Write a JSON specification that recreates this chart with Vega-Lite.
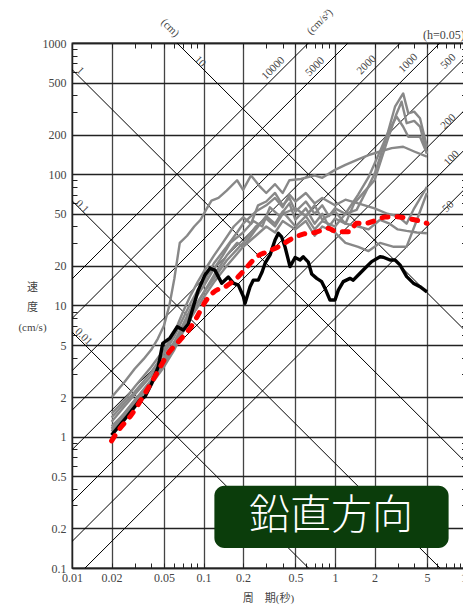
{
"$schema": "https://vega.github.io/schema/vega-lite/v6.json",
"width": 394.5, "height": 525,
"autosize": {"type": "none"},
"padding": {"left": 72, "top": 43, "right": 0, "bottom": 38},
"background": "white",
"config": {"font": "Liberation Serif, Noto Sans CJK JP", "view": {"stroke": "#222", "strokeWidth": 1.3}},
"datasets": {
"diag": [
{"g":"d0.01","T":0.01,"V":6.283},{"g":"d0.01","T":10,"V":0.006283},
{"g":"d0.1","T":0.01,"V":62.83},{"g":"d0.1","T":10,"V":0.06283},
{"g":"d1","T":0.01,"V":628.3},{"g":"d1","T":10,"V":0.6283},
{"g":"d10","T":0.01,"V":6283},{"g":"d10","T":10,"V":6.283},
{"g":"a50","T":0.01,"V":0.0796},{"g":"a50","T":10,"V":79.58},
{"g":"a100","T":0.01,"V":0.1592},{"g":"a100","T":10,"V":159.2},
{"g":"a200","T":0.01,"V":0.3183},{"g":"a200","T":10,"V":318.3},
{"g":"a500","T":0.01,"V":0.7958},{"g":"a500","T":10,"V":795.8},
{"g":"a1000","T":0.01,"V":1.592},{"g":"a1000","T":10,"V":1592},
{"g":"a2000","T":0.01,"V":3.183},{"g":"a2000","T":10,"V":3183},
{"g":"a5000","T":0.01,"V":7.958},{"g":"a5000","T":10,"V":7958},
{"g":"a10000","T":0.01,"V":15.92},{"g":"a10000","T":10,"V":15915}
],
"grey": [
{"id":"g1","T":0.02,"V":2.0},{"id":"g1","T":0.025,"V":2.6},{"id":"g1","T":0.03,"V":3.3},{"id":"g1","T":0.035,"V":3.9},{"id":"g1","T":0.04,"V":4.6},{"id":"g1","T":0.045,"V":5.6},{"id":"g1","T":0.05,"V":7},{"id":"g1","T":0.055,"V":10},{"id":"g1","T":0.06,"V":16},{"id":"g1","T":0.066,"V":30},{"id":"g1","T":0.075,"V":34},{"id":"g1","T":0.085,"V":40},{"id":"g1","T":0.095,"V":45},{"id":"g1","T":0.105,"V":54},{"id":"g1","T":0.115,"V":63},{"id":"g1","T":0.13,"V":66},{"id":"g1","T":0.15,"V":75},{"id":"g1","T":0.18,"V":90},{"id":"g1","T":0.2,"V":76},{"id":"g1","T":0.23,"V":98},{"id":"g1","T":0.27,"V":80},{"id":"g1","T":0.3,"V":72},{"id":"g1","T":0.35,"V":84},{"id":"g1","T":0.4,"V":72},{"id":"g1","T":0.45,"V":90},{"id":"g1","T":0.55,"V":92},{"id":"g1","T":0.7,"V":98},{"id":"g1","T":0.8,"V":94},{"id":"g1","T":1.0,"V":108},{"id":"g1","T":1.2,"V":118},{"id":"g1","T":1.5,"V":130},{"id":"g1","T":1.8,"V":140},{"id":"g1","T":2.2,"V":149},{"id":"g1","T":2.7,"V":158},{"id":"g1","T":3.3,"V":162},{"id":"g1","T":4.0,"V":149},{"id":"g1","T":5.0,"V":136},
{"id":"g2","T":0.02,"V":1.5},{"id":"g2","T":0.025,"V":1.9},{"id":"g2","T":0.03,"V":2.4},{"id":"g2","T":0.04,"V":3.4},{"id":"g2","T":0.05,"V":4.6},{"id":"g2","T":0.06,"V":6.2},{"id":"g2","T":0.07,"V":9},{"id":"g2","T":0.08,"V":12},{"id":"g2","T":0.09,"V":15},{"id":"g2","T":0.1,"V":18},{"id":"g2","T":0.12,"V":24},{"id":"g2","T":0.14,"V":30},{"id":"g2","T":0.17,"V":40},{"id":"g2","T":0.2,"V":47},{"id":"g2","T":0.23,"V":42},{"id":"g2","T":0.26,"V":58},{"id":"g2","T":0.3,"V":62},{"id":"g2","T":0.35,"V":72},{"id":"g2","T":0.4,"V":58},{"id":"g2","T":0.45,"V":66},{"id":"g2","T":0.5,"V":52},{"id":"g2","T":0.6,"V":62},{"id":"g2","T":0.7,"V":50},{"id":"g2","T":0.8,"V":58},{"id":"g2","T":0.9,"V":48},{"id":"g2","T":1.0,"V":55},{"id":"g2","T":1.2,"V":50},{"id":"g2","T":1.46,"V":53.5},{"id":"g2","T":1.7,"V":72},{"id":"g2","T":2.01,"V":102},{"id":"g2","T":2.47,"V":193},{"id":"g2","T":2.86,"V":327},{"id":"g2","T":3.3,"V":413},{"id":"g2","T":3.61,"V":291},{"id":"g2","T":4.0,"V":300},{"id":"g2","T":4.43,"V":267},{"id":"g2","T":5.0,"V":162},
{"id":"g3","T":0.02,"V":1.3},{"id":"g3","T":0.025,"V":1.7},{"id":"g3","T":0.03,"V":2.1},{"id":"g3","T":0.04,"V":2.9},{"id":"g3","T":0.05,"V":4.0},{"id":"g3","T":0.06,"V":5.3},{"id":"g3","T":0.07,"V":7.2},{"id":"g3","T":0.08,"V":9.5},{"id":"g3","T":0.09,"V":12},{"id":"g3","T":0.1,"V":14},{"id":"g3","T":0.12,"V":19},{"id":"g3","T":0.14,"V":24},{"id":"g3","T":0.16,"V":30},{"id":"g3","T":0.2,"V":36},{"id":"g3","T":0.24,"V":44},{"id":"g3","T":0.28,"V":40},{"id":"g3","T":0.32,"V":56},{"id":"g3","T":0.38,"V":48},{"id":"g3","T":0.45,"V":60},{"id":"g3","T":0.5,"V":45},{"id":"g3","T":0.6,"V":55},{"id":"g3","T":0.7,"V":42},{"id":"g3","T":0.8,"V":50},{"id":"g3","T":0.9,"V":40},{"id":"g3","T":1.0,"V":46},{"id":"g3","T":1.2,"V":42},{"id":"g3","T":1.4,"V":60},{"id":"g3","T":1.7,"V":75},{"id":"g3","T":2.0,"V":90},{"id":"g3","T":2.5,"V":180},{"id":"g3","T":2.9,"V":280},{"id":"g3","T":3.21,"V":357},{"id":"g3","T":3.51,"V":245},{"id":"g3","T":4.0,"V":255},{"id":"g3","T":4.43,"V":231},{"id":"g3","T":5.0,"V":144},
{"id":"g4","T":0.02,"V":1.2},{"id":"g4","T":0.025,"V":1.5},{"id":"g4","T":0.03,"V":1.9},{"id":"g4","T":0.04,"V":2.6},{"id":"g4","T":0.05,"V":3.6},{"id":"g4","T":0.06,"V":4.8},{"id":"g4","T":0.07,"V":6.5},{"id":"g4","T":0.08,"V":8.5},{"id":"g4","T":0.1,"V":12.5},{"id":"g4","T":0.12,"V":17},{"id":"g4","T":0.15,"V":24},{"id":"g4","T":0.18,"V":30},{"id":"g4","T":0.2,"V":28},{"id":"g4","T":0.25,"V":38},{"id":"g4","T":0.3,"V":48},{"id":"g4","T":0.35,"V":42},{"id":"g4","T":0.4,"V":52},{"id":"g4","T":0.5,"V":40},{"id":"g4","T":0.6,"V":48},{"id":"g4","T":0.7,"V":38},{"id":"g4","T":0.8,"V":44},{"id":"g4","T":1.0,"V":40},{"id":"g4","T":1.2,"V":50},{"id":"g4","T":1.5,"V":70},{"id":"g4","T":1.8,"V":95},{"id":"g4","T":2.2,"V":150},{"id":"g4","T":2.6,"V":220},{"id":"g4","T":2.94,"V":275},{"id":"g4","T":3.3,"V":230},{"id":"g4","T":3.61,"V":193},{"id":"g4","T":4.43,"V":193},{"id":"g4","T":5.0,"V":144},
{"id":"g5","T":0.02,"V":1.1},{"id":"g5","T":0.03,"V":1.8},{"id":"g5","T":0.04,"V":2.5},{"id":"g5","T":0.05,"V":3.4},{"id":"g5","T":0.06,"V":4.6},{"id":"g5","T":0.07,"V":6.3},{"id":"g5","T":0.08,"V":8},{"id":"g5","T":0.1,"V":11.5},{"id":"g5","T":0.12,"V":15},{"id":"g5","T":0.15,"V":20},{"id":"g5","T":0.2,"V":28},{"id":"g5","T":0.25,"V":34},{"id":"g5","T":0.3,"V":40},{"id":"g5","T":0.35,"V":36},{"id":"g5","T":0.4,"V":44},{"id":"g5","T":0.5,"V":38},{"id":"g5","T":0.6,"V":44},{"id":"g5","T":0.7,"V":34},{"id":"g5","T":0.8,"V":40},{"id":"g5","T":1.0,"V":36},{"id":"g5","T":1.2,"V":30},{"id":"g5","T":1.5,"V":28},{"id":"g5","T":1.8,"V":26},{"id":"g5","T":2.2,"V":30},{"id":"g5","T":2.8,"V":28},{"id":"g5","T":3.5,"V":28},{"id":"g5","T":4.2,"V":45},{"id":"g5","T":5.0,"V":72},
{"id":"g6","T":0.02,"V":1.15},{"id":"g6","T":0.03,"V":1.9},{"id":"g6","T":0.04,"V":2.7},{"id":"g6","T":0.05,"V":3.8},{"id":"g6","T":0.06,"V":5},{"id":"g6","T":0.07,"V":6.8},{"id":"g6","T":0.08,"V":8.8},{"id":"g6","T":0.1,"V":12.5},{"id":"g6","T":0.12,"V":16},{"id":"g6","T":0.15,"V":22},{"id":"g6","T":0.2,"V":30},{"id":"g6","T":0.25,"V":40},{"id":"g6","T":0.3,"V":46},{"id":"g6","T":0.35,"V":40},{"id":"g6","T":0.4,"V":50},{"id":"g6","T":0.5,"V":55},{"id":"g6","T":0.6,"V":48},{"id":"g6","T":0.7,"V":58},{"id":"g6","T":0.8,"V":45},{"id":"g6","T":1.0,"V":52},{"id":"g6","T":1.2,"V":42},{"id":"g6","T":1.5,"V":40},{"id":"g6","T":1.8,"V":38},{"id":"g6","T":2.2,"V":45},{"id":"g6","T":2.6,"V":42},{"id":"g6","T":3.0,"V":38},{"id":"g6","T":3.5,"V":37},{"id":"g6","T":4.2,"V":36},{"id":"g6","T":5.0,"V":35.5},
{"id":"g7","T":0.02,"V":1.4},{"id":"g7","T":0.03,"V":2.2},{"id":"g7","T":0.04,"V":3.1},{"id":"g7","T":0.05,"V":4.3},{"id":"g7","T":0.06,"V":5.8},{"id":"g7","T":0.07,"V":8},{"id":"g7","T":0.08,"V":10.5},{"id":"g7","T":0.09,"V":13},{"id":"g7","T":0.1,"V":15},{"id":"g7","T":0.12,"V":21},{"id":"g7","T":0.15,"V":28},{"id":"g7","T":0.18,"V":36},{"id":"g7","T":0.2,"V":42},{"id":"g7","T":0.25,"V":52},{"id":"g7","T":0.3,"V":58},{"id":"g7","T":0.35,"V":66},{"id":"g7","T":0.4,"V":56},{"id":"g7","T":0.45,"V":70},{"id":"g7","T":0.5,"V":62},{"id":"g7","T":0.6,"V":72},{"id":"g7","T":0.7,"V":60},{"id":"g7","T":0.8,"V":66},{"id":"g7","T":1.0,"V":58},{"id":"g7","T":1.2,"V":64},{"id":"g7","T":1.5,"V":60},{"id":"g7","T":2.0,"V":55},{"id":"g7","T":2.5,"V":50},{"id":"g7","T":3.0,"V":48},{"id":"g7","T":3.5,"V":42},{"id":"g7","T":4.0,"V":55},{"id":"g7","T":5.0,"V":80}
],
"black": [
{"T":0.02,"V":1.03},{"T":0.0261,"V":1.42},{"T":0.0329,"V":1.9},{"T":0.0359,"V":2.02},{"T":0.0404,"V":2.55},{"T":0.0453,"V":3.42},{"T":0.049,"V":5.15},{"T":0.0556,"V":5.65},{"T":0.0632,"V":6.89},{"T":0.0702,"V":6.5},{"T":0.0766,"V":7.23},{"T":0.0836,"V":9.79},{"T":0.0913,"V":13.1},{"T":0.1026,"V":17.1},{"T":0.112,"V":19.2},{"T":0.122,"V":18.6},{"T":0.1375,"V":14.8},{"T":0.1544,"V":16.5},{"T":0.1685,"V":14.8},{"T":0.184,"V":14.3},{"T":0.201,"V":11.7},{"T":0.207,"V":10.4},{"T":0.226,"V":13.9},{"T":0.239,"V":15.6},{"T":0.261,"V":15.6},{"T":0.279,"V":18.0},{"T":0.294,"V":21.0},{"T":0.321,"V":24.3},{"T":0.35,"V":31.6},{"T":0.371,"V":35.5},{"T":0.393,"V":33.3},{"T":0.417,"V":27.9},{"T":0.455,"V":19.8},{"T":0.497,"V":23.2},{"T":0.542,"V":22.2},{"T":0.574,"V":23.5},{"T":0.627,"V":21.4},{"T":0.665,"V":17.4},{"T":0.726,"V":16.1},{"T":0.792,"V":15.2},{"T":0.84,"V":13.5},{"T":0.916,"V":11.0},{"T":1.0,"V":11.0},{"T":1.06,"V":13.1},{"T":1.156,"V":15.2},{"T":1.3,"V":16.1},{"T":1.377,"V":15.6},{"T":1.55,"V":17.6},{"T":1.69,"V":19.2},{"T":1.9,"V":21.6},{"T":2.2,"V":23.5},{"T":2.33,"V":23.3},{"T":2.62,"V":22.2},{"T":2.86,"V":22.2},{"T":3.12,"V":20.4},{"T":3.51,"V":16.6},{"T":3.94,"V":14.8},{"T":4.43,"V":13.9},{"T":5.0,"V":12.7}
],
"red": [
{"T":0.02,"V":0.93},{"T":0.0232,"V":1.16},{"T":0.0276,"V":1.42},{"T":0.0359,"V":2.14},{"T":0.0441,"V":3.04},{"T":0.054,"V":4.32},{"T":0.0663,"V":5.46},{"T":0.079,"V":6.7},{"T":0.0888,"V":8.1},{"T":0.1026,"V":10.6},{"T":0.119,"V":12.6},{"T":0.15,"V":14.1},{"T":0.184,"V":16.6},{"T":0.213,"V":19.5},{"T":0.254,"V":23.5},{"T":0.303,"V":25.6},{"T":0.369,"V":27.9},{"T":0.482,"V":32.7},{"T":0.581,"V":35.1},{"T":0.705,"V":36},{"T":0.885,"V":38.7},{"T":1.03,"V":36.5},{"T":1.3,"V":36.5},{"T":1.46,"V":42.3},{"T":1.69,"V":42.3},{"T":2.08,"V":44.8},{"T":2.4,"V":47.2},{"T":2.94,"V":47.5},{"T":3.51,"V":46.2},{"T":4.18,"V":44.6},{"T":5.0,"V":42.3}
],
"lab45": [
{"t":"1","T":0.0115,"V":615},{"t":"10","T":0.094,"V":721},{"t":"0.1","T":0.0119,"V":56.6},{"t":"0.01","T":0.0122,"V":5.78},{"t":"(cm)","T":0.0556,"V":1301}
],
"labm45": [
{"t":"10000","T":0.34,"V":641},{"t":"5000","T":0.705,"V":659},{"t":"2000","T":1.74,"V":680},{"t":"1000","T":3.61,"V":700},{"t":"500","T":7.28,"V":721},{"t":"200","T":7.28,"V":251},{"t":"100","T":7.71,"V":132},{"t":"50","T":7.28,"V":56.6},{"t":"(cm/s²)","T":0.769,"V":1445}
],
"lab0": [{"t":"(h=0.05)","T":4.67,"V":1151}],
"box": [{"T":0.121,"T2":7.31,"V":0.423,"V2":0.142,"t":"鉛直方向","Tc":0.933,"Vc":0.245}]
},
"layer": [
{"data": {"name": "diag"},
 "mark": {"type": "line", "clip": true, "color": "#000", "strokeWidth": 1},
 "encoding": {
  "x": {"field": "T", "type": "quantitative", "scale": {"type": "log", "domain": [0.01, 10], "nice": false},
   "axis": {"orient": "bottom",
    "values": [0.01,0.02,0.03,0.04,0.05,0.06,0.07,0.08,0.09,0.1,0.2,0.3,0.4,0.5,0.6,0.7,0.8,0.9,1,2,3,4,5,6,7,8,9,10],
    "format": "~g",
    "labelExpr": "indexof([0.01,0.02,0.05,0.1,0.2,0.5,1,2,5,10], datum.value) >= 0 ? datum.label : ''",
    "grid": true,
    "gridOpacity": {"condition": {"test": "indexof([0.01,0.02,0.05,0.1,0.2,0.5,1,2,5,10], datum.value) >= 0", "value": 1}, "value": 0},
    "gridColor": "#444", "gridWidth": 1.3,
    "tickSize": -5, "tickColor": "#222", "tickWidth": 1,
    "domainColor": "#222", "domainWidth": 1.3,
    "labelFontSize": 12, "labelColor": "#444", "labelPadding": 9, "labelFlush": false, "labelOverlap": false,
    "title": "周　期(秒)", "titleFontSize": 11, "titleFontWeight": "normal", "titleColor": "#444",
    "titleX": 196, "titleY": 30, "titleAlign": "center", "titleBaseline": "middle"}},
  "y": {"field": "V", "type": "quantitative", "scale": {"type": "log", "domain": [0.1, 1000], "nice": false},
   "axis": {"orient": "left",
    "values": [0.1,0.2,0.3,0.4,0.5,0.6,0.7,0.8,0.9,1,2,3,4,5,6,7,8,9,10,20,30,40,50,60,70,80,90,100,200,300,400,500,600,700,800,900,1000],
    "format": "~g",
    "labelExpr": "indexof([0.1,0.2,0.5,1,2,5,10,20,50,100,200,500,1000], datum.value) >= 0 ? datum.label : ''",
    "grid": true,
    "gridOpacity": {"condition": {"test": "indexof([0.1,0.2,0.5,1,2,5,10,20,50,100,200,500,1000], datum.value) >= 0", "value": 1}, "value": 0},
    "gridColor": "#222", "gridWidth": 1.3,
    "tickSize": -5, "tickColor": "#222", "tickWidth": 1,
    "domainColor": "#222", "domainWidth": 1.3,
    "labelFontSize": 12, "labelColor": "#444", "labelPadding": 11, "labelOverlap": false, "labelFlush": false,
    "title": ["速", "度", "(cm/s)"], "titleFontSize": 11, "titleFontWeight": "normal", "titleColor": "#444",
    "titleAngle": 0, "titleX": -40, "titleY": 244, "titleAlign": "center", "titleBaseline": "middle", "titleLineHeight": 20}},
  "detail": {"field": "g"}}},
{"data": {"name": "grey"},
 "mark": {"type": "line", "color": "#888", "strokeWidth": 2.4, "strokeJoin": "round"},
 "encoding": {
  "x": {"field": "T", "type": "quantitative", "scale": {"type": "log", "domain": [0.01, 10], "nice": false},
   "axis": {"orient": "top", "values": [0.01,0.02,0.03,0.04,0.05,0.06,0.07,0.08,0.09,0.1,0.2,0.3,0.4,0.5,0.6,0.7,0.8,0.9,1,2,3,4,5,6,7,8,9,10],
    "labels": false, "grid": false, "tickSize": -5, "tickColor": "#222", "domainColor": "#222", "domainWidth": 1.3, "title": null}},
  "y": {"field": "V", "type": "quantitative", "scale": {"type": "log", "domain": [0.1, 1000], "nice": false},
   "axis": {"orient": "right", "values": [0.1,0.2,0.3,0.4,0.5,0.6,0.7,0.8,0.9,1,2,3,4,5,6,7,8,9,10,20,30,40,50,60,70,80,90,100,200,300,400,500,600,700,800,900,1000],
    "labels": false, "grid": false, "tickSize": -5, "tickColor": "#222", "domainColor": "#222", "domainWidth": 1.3, "title": null}},
  "detail": {"field": "id"}}},
{"data": {"name": "black"},
 "mark": {"type": "line", "color": "#000", "strokeWidth": 3.4, "strokeJoin": "round"},
 "encoding": {
  "x": {"field": "T", "type": "quantitative", "scale": {"type": "log", "domain": [0.01, 10], "nice": false}, "axis": null},
  "y": {"field": "V", "type": "quantitative", "scale": {"type": "log", "domain": [0.1, 1000], "nice": false}, "axis": null}}},
{"data": {"name": "red"},
 "mark": {"type": "line", "color": "#ff0000", "strokeWidth": 5, "strokeCap": "round", "strokeDash": [6, 9], "interpolate": "monotone"},
 "encoding": {
  "x": {"field": "T", "type": "quantitative", "scale": {"type": "log", "domain": [0.01, 10], "nice": false}, "axis": null},
  "y": {"field": "V", "type": "quantitative", "scale": {"type": "log", "domain": [0.1, 1000], "nice": false}, "axis": null}}},
{"data": {"name": "box"},
 "mark": {"type": "rect", "color": "#0b3d0b", "cornerRadius": 10},
 "encoding": {
  "x": {"field": "T", "type": "quantitative", "scale": {"type": "log", "domain": [0.01, 10], "nice": false}, "axis": null},
  "x2": {"field": "T2"},
  "y": {"field": "V", "type": "quantitative", "scale": {"type": "log", "domain": [0.1, 1000], "nice": false}, "axis": null},
  "y2": {"field": "V2"}}},
{"data": {"name": "box"},
 "mark": {"type": "text", "color": "white", "fontSize": 41, "fontWeight": 300, "font": "Noto Sans CJK JP", "align": "center", "baseline": "middle"},
 "encoding": {
  "x": {"field": "Tc", "type": "quantitative", "scale": {"type": "log", "domain": [0.01, 10], "nice": false}, "axis": null},
  "y": {"field": "Vc", "type": "quantitative", "scale": {"type": "log", "domain": [0.1, 1000], "nice": false}, "axis": null},
  "text": {"field": "t"}}},
{"data": {"name": "lab45"},
 "mark": {"type": "text", "color": "#444", "fontSize": 11, "angle": 45, "align": "center", "baseline": "middle"},
 "encoding": {
  "x": {"field": "T", "type": "quantitative", "scale": {"type": "log", "domain": [0.01, 10], "nice": false}, "axis": null},
  "y": {"field": "V", "type": "quantitative", "scale": {"type": "log", "domain": [0.1, 1000], "nice": false}, "axis": null},
  "text": {"field": "t"}}},
{"data": {"name": "labm45"},
 "mark": {"type": "text", "color": "#444", "fontSize": 11, "angle": -45, "align": "center", "baseline": "middle"},
 "encoding": {
  "x": {"field": "T", "type": "quantitative", "scale": {"type": "log", "domain": [0.01, 10], "nice": false}, "axis": null},
  "y": {"field": "V", "type": "quantitative", "scale": {"type": "log", "domain": [0.1, 1000], "nice": false}, "axis": null},
  "text": {"field": "t"}}},
{"data": {"name": "lab0"},
 "mark": {"type": "text", "color": "#444", "fontSize": 12, "align": "left", "baseline": "middle"},
 "encoding": {
  "x": {"field": "T", "type": "quantitative", "scale": {"type": "log", "domain": [0.01, 10], "nice": false}, "axis": null},
  "y": {"field": "V", "type": "quantitative", "scale": {"type": "log", "domain": [0.1, 1000], "nice": false}, "axis": null},
  "text": {"field": "t"}}}
],
"resolve": {"axis": {"x": "independent", "y": "independent"}}
}
